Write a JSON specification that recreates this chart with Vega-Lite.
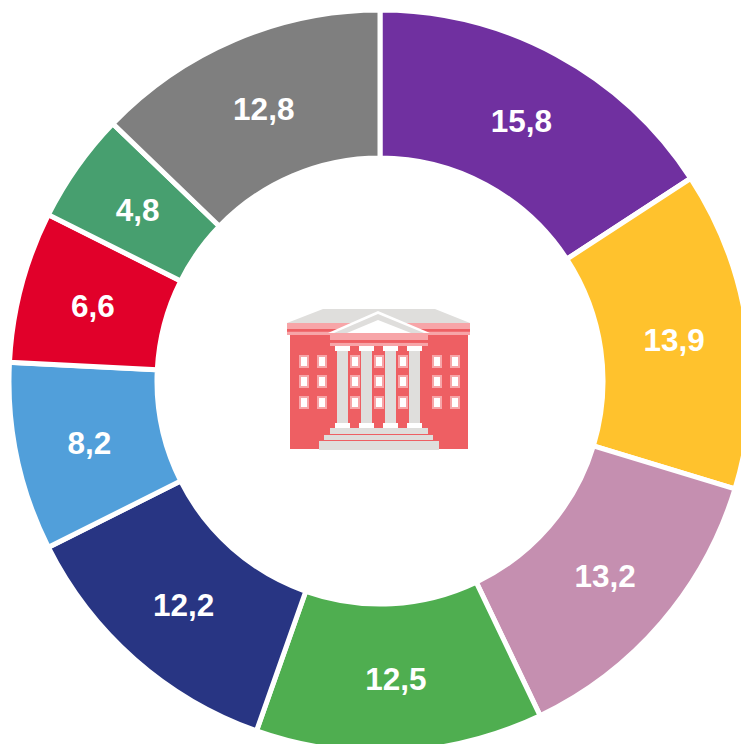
{"$schema":"https://vega.github.io/schema/vega-lite/v6.json","width":741,"height":744,"padding":0,"autosize":{"type":"none"},"background":"#ffffff","config":{"view":{"stroke":null}},
"layer":[
{"data":{"values":[{"s":"A","v":15.8,"t":"15,8"},{"s":"B","v":13.9,"t":"13,9"},{"s":"C","v":13.2,"t":"13,2"},{"s":"D","v":12.5,"t":"12,5"},{"s":"E","v":12.2,"t":"12,2"},{"s":"F","v":8.2,"t":"8,2"},{"s":"G","v":6.6,"t":"6,6"},{"s":"H","v":4.8,"t":"4,8"},{"s":"I","v":12.8,"t":"12,8"}]},
"encoding":{"theta":{"field":"v","type":"quantitative","stack":true,"scale":{"domain":[0,100]}},"order":{"field":"s"},"x":{"value":380},"y":{"value":381}},
"layer":[
{"mark":{"type":"arc","radius":371,"radius2":223,"stroke":"#ffffff","strokeWidth":5},"encoding":{"color":{"field":"s","type":"nominal","legend":null}}},
{"mark":{"type":"text","radius":297,"dy":3,"font":"Liberation Sans","fontWeight":"bold","fontSize":31.5,"fill":"#ffffff"},"encoding":{"detail":{"field":"s"},"text":{"field":"t"}}}
]},
{"data":{"values":[{"p":"stone","g":"roof","a":287,"b":323,"c":323},{"p":"stone","g":"roof","a":323,"b":309,"c":323},{"p":"stone","g":"roof","a":435,"b":309,"c":323},{"p":"stone","g":"roof","a":470,"b":323,"c":323}]},
"mark":{"type":"area"},"encoding":{"x":{"field":"a","type":"quantitative","scale":{"domain":[0,741],"nice":false,"zero":false},"axis":null},"y":{"field":"b","type":"quantitative","stack":false,"scale":{"domain":[744,0],"nice":false,"zero":false},"axis":null},"y2":{"field":"c"},"color":{"field":"p","type":"nominal"},"detail":{"field":"g"}}},
{"data":{"values":[
{"p":"pink","a":287,"e":470,"b":323,"c":335},
{"p":"wall","a":287,"e":470,"b":329,"c":331.7},
{"p":"wall","a":290,"e":468,"b":335,"c":449},
{"p":"pink","a":299,"e":309,"b":355,"c":368},{"p":"pink","a":317,"e":327,"b":355,"c":368},{"p":"pink","a":350,"e":360,"b":355,"c":368},{"p":"pink","a":374,"e":384,"b":355,"c":368},{"p":"pink","a":398,"e":408,"b":355,"c":368},{"p":"pink","a":432,"e":442,"b":355,"c":368},{"p":"pink","a":450,"e":460,"b":355,"c":368},
{"p":"pink","a":299,"e":309,"b":375,"c":388},{"p":"pink","a":317,"e":327,"b":375,"c":388},{"p":"pink","a":350,"e":360,"b":375,"c":388},{"p":"pink","a":374,"e":384,"b":375,"c":388},{"p":"pink","a":398,"e":408,"b":375,"c":388},{"p":"pink","a":432,"e":442,"b":375,"c":388},{"p":"pink","a":450,"e":460,"b":375,"c":388},
{"p":"pink","a":299,"e":309,"b":396,"c":409},{"p":"pink","a":317,"e":327,"b":396,"c":409},{"p":"pink","a":350,"e":360,"b":396,"c":409},{"p":"pink","a":374,"e":384,"b":396,"c":409},{"p":"pink","a":398,"e":408,"b":396,"c":409},{"p":"pink","a":432,"e":442,"b":396,"c":409},{"p":"pink","a":450,"e":460,"b":396,"c":409},
{"p":"white","a":301,"e":307,"b":357,"c":366},{"p":"white","a":319,"e":325,"b":357,"c":366},{"p":"white","a":352,"e":358,"b":357,"c":366},{"p":"white","a":376,"e":382,"b":357,"c":366},{"p":"white","a":400,"e":406,"b":357,"c":366},{"p":"white","a":434,"e":440,"b":357,"c":366},{"p":"white","a":452,"e":458,"b":357,"c":366},
{"p":"white","a":301,"e":307,"b":377,"c":386},{"p":"white","a":319,"e":325,"b":377,"c":386},{"p":"white","a":352,"e":358,"b":377,"c":386},{"p":"white","a":376,"e":382,"b":377,"c":386},{"p":"white","a":400,"e":406,"b":377,"c":386},{"p":"white","a":434,"e":440,"b":377,"c":386},{"p":"white","a":452,"e":458,"b":377,"c":386},
{"p":"white","a":301,"e":307,"b":398,"c":407},{"p":"white","a":319,"e":325,"b":398,"c":407},{"p":"white","a":352,"e":358,"b":398,"c":407},{"p":"white","a":376,"e":382,"b":398,"c":407},{"p":"white","a":400,"e":406,"b":398,"c":407},{"p":"white","a":434,"e":440,"b":398,"c":407},{"p":"white","a":452,"e":458,"b":398,"c":407}
]},
"mark":{"type":"rect"},"encoding":{"x":{"field":"a","type":"quantitative"},"x2":{"field":"e"},"y":{"field":"b","type":"quantitative"},"y2":{"field":"c"},"color":{"field":"p","type":"nominal"}}},
{"data":{"values":[
{"p":"white","g":"1","a":328,"b":333,"c":333},{"p":"white","g":"1","a":378,"b":311,"c":333},{"p":"white","g":"1","a":430,"b":333,"c":333}
]},
"mark":{"type":"area"},"encoding":{"x":{"field":"a","type":"quantitative"},"y":{"field":"b","type":"quantitative","stack":false},"y2":{"field":"c"},"color":{"field":"p","type":"nominal"},"detail":{"field":"g"}}},
{"data":{"values":[
{"p":"stone","g":"2","a":334,"b":333,"c":333},{"p":"stone","g":"2","a":378,"b":314,"c":333},{"p":"stone","g":"2","a":424,"b":333,"c":333}
]},
"mark":{"type":"area"},"encoding":{"x":{"field":"a","type":"quantitative"},"y":{"field":"b","type":"quantitative","stack":false},"y2":{"field":"c"},"color":{"field":"p","type":"nominal"},"detail":{"field":"g"}}},
{"data":{"values":[
{"p":"white","g":"3","a":347,"b":333,"c":333},{"p":"white","g":"3","a":378,"b":320,"c":333},{"p":"white","g":"3","a":411,"b":333,"c":333}
]},
"mark":{"type":"area"},"encoding":{"x":{"field":"a","type":"quantitative"},"y":{"field":"b","type":"quantitative","stack":false},"y2":{"field":"c"},"color":{"field":"p","type":"nominal"},"detail":{"field":"g"}}},
{"data":{"values":[
{"p":"pink","a":330,"e":428,"b":333,"c":340},
{"p":"pink","a":330,"e":428,"b":342.7,"c":346},
{"p":"wall","a":330,"e":428,"b":340,"c":342.7},
{"p":"stone","a":337,"e":348,"b":350,"c":424},{"p":"stone","a":361,"e":372,"b":350,"c":424},{"p":"stone","a":385,"e":396,"b":350,"c":424},{"p":"stone","a":409,"e":420,"b":350,"c":424},
{"p":"white","a":335,"e":350,"b":346,"c":351},{"p":"white","a":359,"e":374,"b":346,"c":351},{"p":"white","a":383,"e":398,"b":346,"c":351},{"p":"white","a":407,"e":422,"b":346,"c":351},
{"p":"white","a":335,"e":350,"b":423,"c":428},{"p":"white","a":359,"e":374,"b":423,"c":428},{"p":"white","a":383,"e":398,"b":423,"c":428},{"p":"white","a":407,"e":422,"b":423,"c":428},
{"p":"stone","a":330,"e":428,"b":428,"c":434},
{"p":"stone","a":324,"e":433,"b":435,"c":440},
{"p":"stone","a":319,"e":439,"b":441,"c":450}
]},
"mark":{"type":"rect"},"encoding":{"x":{"field":"a","type":"quantitative"},"x2":{"field":"e"},"y":{"field":"b","type":"quantitative"},"y2":{"field":"c"},"color":{"field":"p","type":"nominal","scale":{"domain":["A","B","C","D","E","F","G","H","I","wall","pink","stone","white"],"range":["#7030A0","#FFC22D","#C58FB0","#4FAE50","#283583","#519FDA","#E1002A","#479F6F","#7F7F7F","#EE5F63","#F7A5A8","#DFDEDC","#FFFFFF"]},"legend":null}}}
]}
